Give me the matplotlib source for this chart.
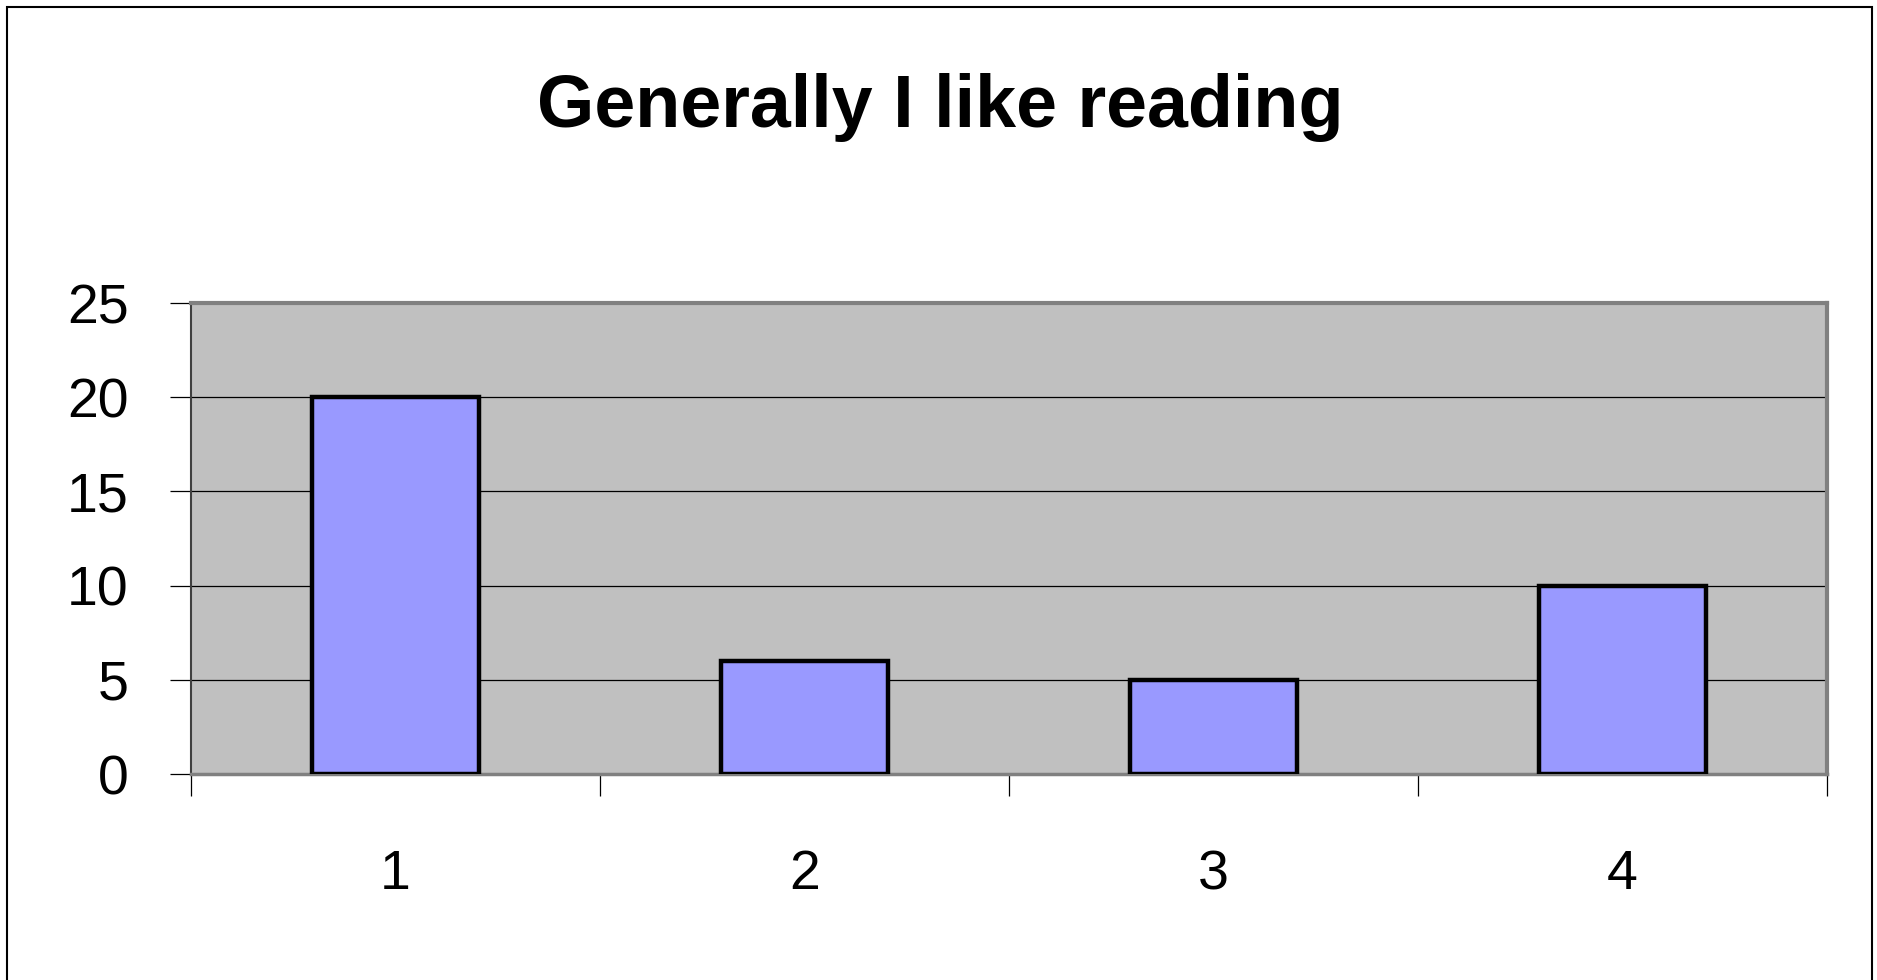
import matplotlib
matplotlib.use("Agg")
import matplotlib.pyplot as plt
from matplotlib.patches import Rectangle
from matplotlib.ticker import FixedLocator

# chart data
categories = ["1", "2", "3", "4"]
values = [20, 6, 5, 10]
y_ticks = [0, 5, 10, 15, 20, 25]
title = "Generally I like reading"

FONT = ["Liberation Sans Narrow", "Liberation Sans", "DejaVu Sans"]
plt.rcParams["font.family"] = FONT

fig = plt.figure(figsize=(18.77, 9.8), dpi=100)
fig.patch.set_facecolor("white")

# outer chart frame
fig.patches.append(Rectangle((7 / 1877, -0.01), (1872 - 7) / 1877, 1 - 7 / 980 + 0.01,
                             transform=fig.transFigure, fill=False,
                             edgecolor="black", linewidth=1.5))

ax = fig.add_axes([191 / 1877, 1 - 774 / 980, (1827 - 191) / 1877, (774 - 303) / 980])
ax.set_facecolor("#C0C0C0")

x = list(range(len(categories)))
ax.bar(x, values, width=0.41, color="#9999FF", edgecolor="black", linewidth=3.2, zorder=3)

ax.set_xlim(-0.5, len(categories) - 0.5)
ax.set_ylim(0, 25)

# gridlines
ax.yaxis.grid(True, color="black", linewidth=0.9, zorder=1)
ax.set_axisbelow(True)

# y axis
ax.set_yticks(y_ticks)
ax.set_yticklabels([str(v) for v in y_ticks])
ax.tick_params(axis="y", which="major", direction="out", length=15, width=0.9,
               color="black", labelsize=40, pad=30)

# x axis: labels at centres, tick marks between categories
ax.set_xticks(x)
ax.set_xticklabels(categories)
ax.tick_params(axis="x", which="major", length=0, labelsize=40, pad=54)
ax.xaxis.set_minor_locator(FixedLocator([i - 0.5 for i in range(len(categories) + 1)]))
ax.tick_params(axis="x", which="minor", direction="out", length=16, width=0.9, color="black")

for side in ("top", "right"):
    ax.spines[side].set_color("#808080")
    ax.spines[side].set_linewidth(3)
ax.spines["left"].set_color("#404040")
ax.spines["left"].set_linewidth(1.5)
ax.spines["bottom"].set_color("#808080")
ax.spines["bottom"].set_linewidth(2.5)

fig.text(0.5008, 1 - 108 / 980, title, ha="center", va="center",
         fontsize=53, fontweight="bold", family=FONT)

fig.savefig("out.png", dpi=100)
